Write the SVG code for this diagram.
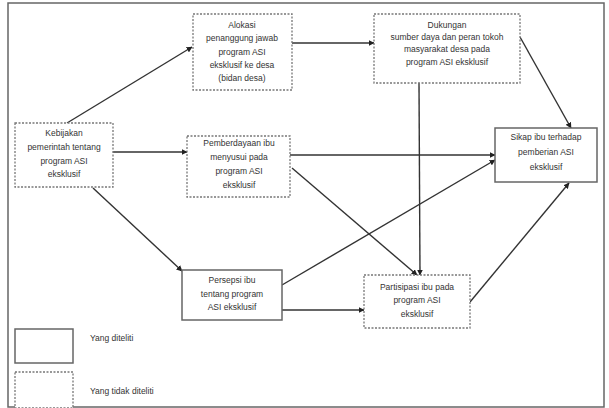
<svg xmlns="http://www.w3.org/2000/svg" width="609" height="408" viewBox="0 0 609 408">
<style>
.frame{fill:none;stroke:#666;stroke-width:1.5}
.solid{fill:#fff;stroke:#666;stroke-width:1.5}
.dash{fill:#fff;stroke:#777;stroke-width:1.3;stroke-dasharray:2,1.5}
.t{font-family:"Liberation Sans",Arial,sans-serif;font-size:8.5px;fill:#333;text-anchor:middle}
.lt{font-family:"Liberation Sans",Arial,sans-serif;font-size:8.5px;fill:#333}
.c{fill:none;stroke:#333;stroke-width:1.4;marker-end:url(#ah)}
</style>
<defs>
<marker id="ah" viewBox="0 0 10 10" refX="9" refY="5" markerWidth="6" markerHeight="6" orient="auto" markerUnits="userSpaceOnUse">
<path d="M0,0 L10,5 L0,10 z" fill="#222"/>
</marker>
</defs>
<rect width="609" height="408" fill="#fff"/>
<rect class="frame" x="8" y="3" width="596" height="404"/>
<g id="connectors">
<line class="c" x1="67" y1="123" x2="192" y2="47"/>
<line class="c" x1="113" y1="152" x2="187" y2="152"/>
<line class="c" x1="93" y1="188" x2="182" y2="271"/>
<line class="c" x1="292" y1="43" x2="374" y2="43"/>
<line class="c" x1="520" y1="37" x2="571" y2="128"/>
<line class="c" x1="419" y1="83" x2="420" y2="275"/>
<line class="c" x1="290" y1="155" x2="495" y2="155"/>
<line class="c" x1="292" y1="168" x2="417" y2="275"/>
<line class="c" x1="282" y1="285" x2="495" y2="160"/>
<line class="c" x1="282" y1="310" x2="364" y2="310"/>
<line class="c" x1="470" y1="302" x2="569" y2="183"/>
</g>
<g id="n1">
<rect class="dash" x="15" y="123" width="98" height="64"/>
<text class="t" x="64" y="136">Kebijakan</text>
<text class="t" x="64" y="150">pemerintah tentang</text>
<text class="t" x="64" y="164">program ASI</text>
<text class="t" x="64" y="177">eksklusif</text>
</g>
<g id="n2">
<rect class="dash" x="193" y="14" width="99" height="76"/>
<text class="t" x="242" y="28">Alokasi</text>
<text class="t" x="242" y="41">penanggung jawab</text>
<text class="t" x="242" y="55">program ASI</text>
<text class="t" x="242" y="68">eksklusif ke desa</text>
<text class="t" x="242" y="81">(bidan desa)</text>
</g>
<g id="n3">
<rect class="dash" x="374" y="14" width="146" height="69"/>
<text class="t" x="447" y="28">Dukungan</text>
<text class="t" x="447" y="40">sumber daya dan peran tokoh</text>
<text class="t" x="447" y="52">masyarakat desa pada</text>
<text class="t" x="447" y="65">program ASI eksklusif</text>
</g>
<g id="n4">
<rect class="dash" x="187" y="136" width="103" height="61"/>
<text class="t" x="239" y="146">Pemberdayaan ibu</text>
<text class="t" x="239" y="160">menyusui pada</text>
<text class="t" x="239" y="174">program ASI</text>
<text class="t" x="239" y="188">eksklusif</text>
</g>
<g id="n5">
<rect class="solid" x="495" y="128" width="102" height="54"/>
<text class="t" x="546" y="140">Sikap ibu terhadap</text>
<text class="t" x="546" y="155">pemberian ASI</text>
<text class="t" x="546" y="170">eksklusif</text>
</g>
<g id="n6">
<rect class="solid" x="182" y="270" width="100" height="50"/>
<text class="t" x="232" y="283">Persepsi ibu</text>
<text class="t" x="232" y="297">tentang program</text>
<text class="t" x="232" y="310">ASI eksklusif</text>
</g>
<g id="n7">
<rect class="dash" x="364" y="275" width="106" height="53"/>
<text class="t" x="417" y="290">Partisipasi ibu pada</text>
<text class="t" x="417" y="303">program ASI</text>
<text class="t" x="417" y="317">eksklusif</text>
</g>
<g id="legend">
<rect class="solid" x="15" y="329" width="58" height="34"/>
<text class="lt" x="90" y="341">Yang diteliti</text>
<rect class="dash" x="15" y="372" width="58" height="36"/>
<text class="lt" x="90" y="394">Yang tidak diteliti</text>
</g>
</svg>
